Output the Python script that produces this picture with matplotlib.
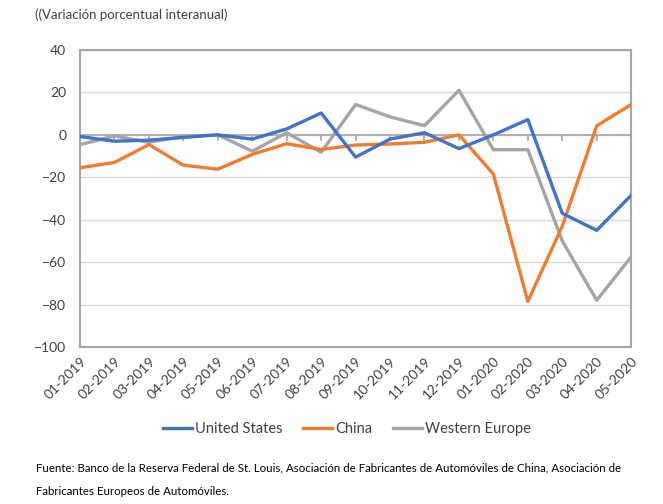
import matplotlib.pyplot as plt
import numpy as np

plt.rcParams['font.family'] = ['Lato', 'DejaVu Sans']

months = ['01-2019', '02-2019', '03-2019', '04-2019', '05-2019', '06-2019',
          '07-2019', '08-2019', '09-2019', '10-2019', '11-2019', '12-2019',
          '01-2020', '02-2020', '03-2020', '04-2020', '05-2020']
united_states = [-0.8, -3, -2.5, -1.2, 0, -2, 2.8, 10.3, -10.5, -2, 1, -6.5,
                 0, 7.2, -37, -45, -28.5]
china = [-15.5, -13, -4.6, -14.3, -16.2, -9.2, -4.2, -6.9, -4.8, -4.3, -3.5, 0,
         -18.5, -78.5, -43, 4.3, 14.3]
western_europe = [-4.6, -0.5, -3.5, -0.8, 0, -7.7, 1, -8.2, 14.3, 8.5, 4.3, 21,
                  -7, -7, -50, -78, -57.5]

text_col = '#404040'

fig = plt.figure(figsize=(6.63, 5.04), dpi=100)
ax = fig.add_axes([0.1207, 0.3115, 0.8313, 0.5893])

x = np.arange(len(months))
ax.plot(x, united_states, color='#4472C4', lw=2.4, label='United States', zorder=4)
ax.plot(x, china, color='#ED7D31', lw=2.4, label='China', zorder=3)
ax.plot(x, western_europe, color='#A5A5A5', lw=2.4, label='Western Europe', zorder=2)

ax.set_xlim(0, len(months) - 1)
ax.set_ylim(-100, 40)
ax.set_yticks(range(-100, 41, 20))
ax.grid(axis='y', color='#D9D9D9', lw=1)
ax.set_axisbelow(True)
ax.axhline(0, color='#A6A6A6', lw=1.2, zorder=1)
# small category ticks hanging off the zero line
for xi in x:
    ax.plot([xi, xi], [0, -2.2], color='#A6A6A6', lw=1.2, zorder=1)

ax.set_xticks(x)
ax.set_xticklabels(months, rotation=45, ha='right', rotation_mode='anchor')
ax.tick_params(axis='x', length=0, pad=6, labelsize=10, colors=text_col)
ax.tick_params(axis='y', length=0, pad=10, labelsize=10, colors=text_col)
for s in ax.spines.values():
    s.set_color('#A6A6A6')
    s.set_linewidth(1.5)

leg = fig.legend(loc='center', bbox_to_anchor=(0.523, 0.149), ncol=3, frameon=False,
                 fontsize=10.5, handlelength=2.0, handletextpad=0.2, columnspacing=1.4)
for t in leg.get_texts():
    t.set_color(text_col)

fig.text(0.053, 0.970, '((Variación porcentual interanual)', fontsize=9.5,
         color=text_col, va='center')
fig.text(0.054, 0.071, 'Fuente: Banco de la Reserva Federal de St. Louis, Asociación de '
         'Fabricantes de Automóviles de China, Asociación de', fontsize=8.3, va='center')
fig.text(0.054, 0.024, 'Fabricantes Europeos de Automóviles.', fontsize=8.3, va='center')

fig.savefig('out.png', dpi=100)
